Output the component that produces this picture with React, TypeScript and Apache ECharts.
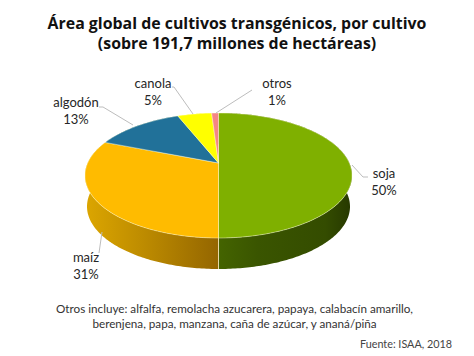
import React, { useEffect, useRef } from "react";
import * as echarts from "echarts";

const categories = ["soja", "maíz", "algodón", "canola", "otros"];
const shares = [50, 31, 13, 5, 1];
const topColors = ["#7FB000", "#FFBB00", "#217199", "#FFFF00", "#F58585"];
const titleLines = ["Área global de cultivos transgénicos, por cultivo", "(sobre 191,7 millones de hectáreas)"];
const noteLines = [
  "Otros incluye: alfalfa, remolacha azucarera, papaya, calabacín amarillo,",
  "berenjena, papa, manzana, caña de azúcar, y ananá/piña",
];
const source = "Fuente: ISAA, 2018";

// layout of the perspective disc
const APEX_X = 218.5;
const APEX_Y = 163;
const SCALE_X = 130.8;
const SCALE_Y = 60;
const TILT = 0.2;
const DEPTH = 31;
const BOTTOM_SHRINK = 0.985;

const labelCenters = [
  [384, 181],
  [86, 265],
  [76, 110],
  [153, 91],
  [277, 91],
];
const leaders = [
  [[352, 165], [363, 177], [368, 177]],
  [[102, 232], [99, 253]],
  [[133, 125], [103, 107], [99, 107]],
  [[193, 114], [174, 87], [172, 87]],
  [[216, 113], [252, 90]],
];

function rim(theta: number): [number, number] {
  const u = Math.sin(theta);
  const v = -Math.cos(theta);
  const w = 1 - TILT * v;
  return [APEX_X + (SCALE_X * u) / w, APEX_Y + (SCALE_Y * v) / w];
}

function sliceRange(index: number): [number, number] {
  const total = shares.reduce((a, b) => a + b, 0);
  const before = shares.slice(0, index).reduce((a, b) => a + b, 0);
  return [(before / total) * Math.PI * 2, ((before + shares[index]) / total) * Math.PI * 2];
}

function arcPoints(t0: number, t1: number): [number, number][] {
  const n = Math.max(4, Math.ceil((t1 - t0) / 0.015));
  const pts: [number, number][] = [];
  for (let i = 0; i <= n; i++) pts.push(rim(t0 + ((t1 - t0) * i) / n));
  return pts;
}

const lowered = (p: [number, number]): [number, number] => [
  APEX_X + (p[0] - APEX_X) * BOTTOM_SHRINK,
  p[1] + DEPTH,
];

function sideFill(index: number) {
  if (index === 0) {
    return new echarts.graphic.LinearGradient(218, 0, 352, 0, [
      { offset: 0, color: "#446400" },
      { offset: 0.3, color: "#3A5500" },
      { offset: 0.8, color: "#344C00" },
      { offset: 1, color: "#263800" },
    ], true);
  }
  if (index === 1) {
    return new echarts.graphic.LinearGradient(85, 0, 218, 0, [
      { offset: 0, color: "#DCA600" },
      { offset: 0.4, color: "#C08E00" },
      { offset: 1, color: "#946600" },
    ], true);
  }
  return topColors[index];
}

export default function App() {
  const ref = useRef<HTMLDivElement>(null);
  useEffect(() => {
    document.body.style.margin = "0";
    const chart = echarts.init(ref.current!, undefined, { renderer: "svg" });
    const data = shares.map((v, i) => ({ name: categories[i], value: v }));
    chart.setOption({
      animation: false,
      backgroundColor: "#ffffff",
      title: {
        text: titleLines.join("\n"),
        left: 232,
        textAlign: "center",
        top: 8,
        textStyle: { fontFamily: "Open Sans", fontWeight: "bold", fontSize: 15.9, lineHeight: 20, color: "#111111" },
      },
      series: [
        {
          type: "custom",
          coordinateSystem: "none",
          data,
          z: 1,
          renderItem: (params: any) => {
            const [t0, t1] = sliceRange(params.dataIndex);
            const arc = arcPoints(t0, t1);
            const points = [...arc, ...arc.slice().reverse().map(lowered)];
            return { type: "polygon", shape: { points }, style: { fill: sideFill(params.dataIndex) } };
          },
        },
        {
          type: "custom",
          coordinateSystem: "none",
          data,
          z: 2,
          renderItem: (params: any) => {
            const i = params.dataIndex;
            const [t0, t1] = sliceRange(i);
            const points = [[APEX_X, APEX_Y], ...arcPoints(t0, t1)];
            return {
              type: "polygon",
              shape: { points },
              style: { fill: topColors[i], stroke: "rgba(255,255,220,0.55)", lineWidth: 0.8 },
            };
          },
        },
        {
          type: "custom",
          coordinateSystem: "none",
          data,
          z: 3,
          renderItem: (params: any) => {
            const i = params.dataIndex;
            return {
              type: "group",
              children: [
                { type: "polyline", shape: { points: leaders[i] }, style: { stroke: "#BDBDBD", lineWidth: 1, fill: "none" } },
                {
                  type: "text",
                  x: labelCenters[i][0],
                  y: labelCenters[i][1],
                  style: {
                    text: categories[i] + "\n" + shares[i] + "%",
                    fontFamily: "Lato",
                    fontSize: 13,
                    lineHeight: 17,
                    fill: "#262626",
                    align: "center",
                    verticalAlign: "middle",
                  },
                },
              ],
            };
          },
        },
        {
          type: "custom",
          coordinateSystem: "none",
          data: [0],
          z: 4,
          silent: true,
          renderItem: () => ({
            type: "group",
            children: [
              { type: "line", shape: { x1: APEX_X, y1: 238, x2: APEX_X, y2: 269 }, style: { stroke: "#E6D9A8", lineWidth: 1 } },
            ],
          }),
        },
      ],
      graphic: [
        {
          type: "text",
          x: 234.5,
          y: 315.5,
          style: {
            text: noteLines.join("\n"),
            fontFamily: "Lato",
            fontSize: 11.7,
            lineHeight: 15,
            fill: "#333333",
            align: "center",
            verticalAlign: "middle",
          },
        },
        {
          type: "text",
          x: 452,
          y: 343,
          style: { text: source, fontFamily: "Lato", fontSize: 10.8, fill: "#444444", align: "right", verticalAlign: "middle" },
        },
      ],
    });
    return () => chart.dispose();
  }, []);
  return <div ref={ref} style={{ width: 474, height: 356 }} />;
}
